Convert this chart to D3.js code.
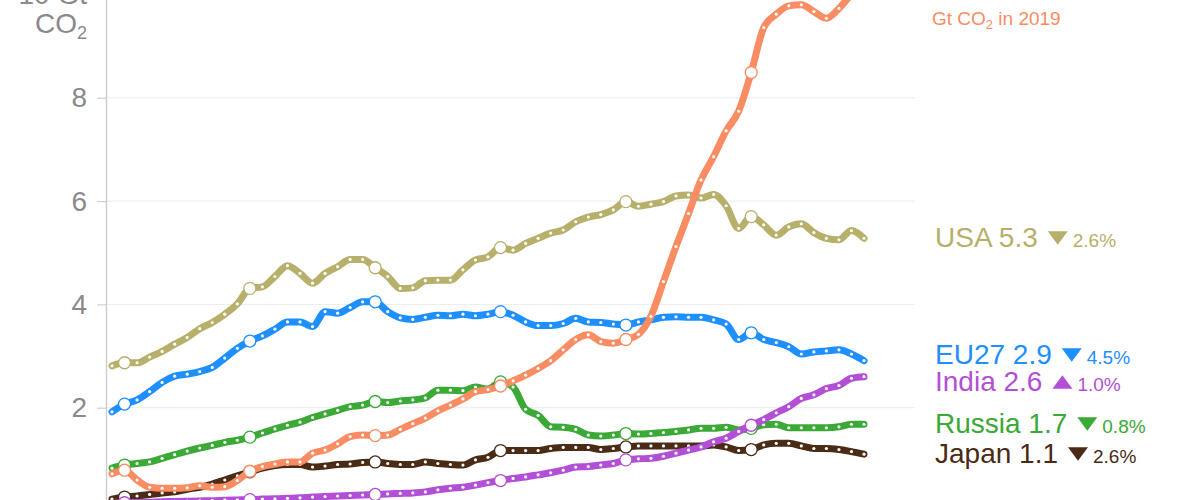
<!DOCTYPE html>
<html><head><meta charset="utf-8">
<script src="https://cdn.jsdelivr.net/npm/d3@7"></script>
<style>
html,body{margin:0;padding:0;background:#fff;overflow:hidden}
svg{display:block;font-family:"Liberation Sans",Arial,Helvetica,sans-serif}
</style></head><body>
<svg id="chart" width="1200" height="500"></svg>
<script>
// ---------- data (Gt CO2 per year, 1959-2019) ----------
const years = d3.range(1959, 2020);

const china = [0.72,
  0.79, 0.60, 0.46, 0.44, 0.44, 0.45, 0.49, 0.46, 0.47, 0.59,
  0.77, 0.86, 0.91, 0.95, 0.95, 1.12, 1.18, 1.30, 1.44, 1.47,
  1.46, 1.47, 1.58, 1.69, 1.80, 1.94, 2.05, 2.17, 2.31, 2.35,
  2.42, 2.52, 2.63, 2.76, 2.91, 3.12, 3.32, 3.41, 3.28, 3.25,
  3.32, 3.42, 3.77, 4.44, 5.12, 5.76, 6.41, 6.86, 7.36, 7.74,
  8.49, 9.36, 9.62, 9.78, 9.80, 9.67, 9.54, 9.73, 10.00, 10.17];

const usa = [2.81,
  2.87, 2.87, 2.98, 3.09, 3.23, 3.36, 3.53, 3.65, 3.81, 4.01,
  4.31, 4.34, 4.54, 4.75, 4.60, 4.41, 4.60, 4.73, 4.87, 4.87,
  4.71, 4.54, 4.31, 4.32, 4.46, 4.47, 4.47, 4.67, 4.86, 4.92,
  5.10, 5.05, 5.18, 5.28, 5.38, 5.44, 5.60, 5.69, 5.74, 5.83,
  5.99, 5.90, 5.94, 5.99, 6.10, 6.12, 6.06, 6.13, 5.91, 5.47,
  5.70, 5.54, 5.34, 5.50, 5.56, 5.39, 5.28, 5.25, 5.43, 5.28];

const eu27 = [1.92,
  2.07, 2.15, 2.31, 2.49, 2.61, 2.65, 2.70, 2.78, 2.96, 3.15,
  3.29, 3.39, 3.52, 3.66, 3.66, 3.57, 3.86, 3.83, 3.94, 4.05,
  4.05, 3.86, 3.74, 3.71, 3.75, 3.79, 3.78, 3.81, 3.78, 3.81,
  3.86, 3.79, 3.66, 3.59, 3.59, 3.63, 3.73, 3.66, 3.65, 3.62,
  3.60, 3.66, 3.70, 3.75, 3.76, 3.75, 3.75, 3.70, 3.62, 3.32,
  3.45, 3.32, 3.26, 3.18, 3.04, 3.08, 3.10, 3.12, 3.04, 2.91];

const india = [0.15,
  0.16, 0.165, 0.17, 0.18, 0.185, 0.19, 0.195, 0.20, 0.21, 0.215,
  0.22, 0.23, 0.235, 0.245, 0.255, 0.27, 0.28, 0.29, 0.30, 0.31,
  0.32, 0.33, 0.34, 0.35, 0.37, 0.41, 0.44, 0.46, 0.50, 0.55,
  0.59, 0.63, 0.66, 0.70, 0.74, 0.79, 0.85, 0.86, 0.89, 0.92,
  0.99, 1.01, 1.02, 1.06, 1.12, 1.18, 1.24, 1.34, 1.41, 1.54,
  1.66, 1.77, 1.90, 2.02, 2.18, 2.25, 2.37, 2.43, 2.57, 2.60];

const russia = [0.83,
  0.89, 0.92, 0.95, 1.02, 1.09, 1.16, 1.22, 1.27, 1.33, 1.37,
  1.43, 1.51, 1.59, 1.66, 1.72, 1.81, 1.88, 1.95, 2.02, 2.05,
  2.12, 2.10, 2.13, 2.15, 2.19, 2.34, 2.34, 2.33, 2.40, 2.36,
  2.50, 2.40, 1.97, 1.85, 1.63, 1.62, 1.58, 1.47, 1.45, 1.47,
  1.50, 1.49, 1.50, 1.52, 1.54, 1.57, 1.60, 1.60, 1.62, 1.57,
  1.60, 1.67, 1.68, 1.61, 1.61, 1.61, 1.61, 1.63, 1.68, 1.68];

const japan = [0.23,
  0.27, 0.29, 0.32, 0.35, 0.37, 0.42, 0.46, 0.52, 0.60, 0.68,
  0.76, 0.83, 0.88, 0.90, 0.90, 0.85, 0.87, 0.90, 0.91, 0.94,
  0.95, 0.92, 0.90, 0.90, 0.95, 0.92, 0.90, 0.89, 0.99, 1.04,
  1.17, 1.17, 1.17, 1.17, 1.21, 1.23, 1.23, 1.23, 1.19, 1.21,
  1.24, 1.26, 1.26, 1.26, 1.26, 1.26, 1.26, 1.28, 1.24, 1.17,
  1.19, 1.28, 1.31, 1.31, 1.26, 1.21, 1.21, 1.19, 1.15, 1.10];

const tickValues = [0, 2, 4, 6, 8, 10];
const tickLabels = ["0", "2", "4", "6", "8", "10 Gt"];
const markerYears = [1960, 1970, 1980, 1990, 2000, 2010];

// label texts (drawn in order of series list below)
const seriesNames  = ["Japan", "Russia", "India", "EU27", "USA", "China"];
const seriesValues = [japan, russia, india, eu27, usa, china];
const seriesColors = ["#4a2b15", "#3aa935", "#b34fd6", "#1e8fff", "#b6b06a", "#f98c62"];
const labelValues  = ["1.1", "1.7", "2.6", "2.9", "5.3", "10.2"];
const labelChange  = ["2.6%", "0.8%", "1.0%", "4.5%", "2.6%", ""];
const labelDir     = ["down", "down", "up", "down", "down", ""];

// ---------- chart ----------
const svg = d3.select("#chart");
const x = d3.scaleLinear().domain([1959, 2019]).range([112, 864]);
const y = d3.scaleLinear().domain([0, 10]).range([511, -5.5]);
const axisX = 106, gridEnd = 915;

// grid
svg.append("g").selectAll("line")
  .data(tickValues.filter(d => d > 0))
  .join("line")
  .attr("x1", axisX).attr("x2", gridEnd)
  .attr("y1", d => y(d)).attr("y2", d => y(d))
  .attr("stroke", "#ececec").attr("stroke-width", 1);

// y axis
const yAxis = d3.axisLeft(y).tickValues(tickValues)
  .tickFormat((d, i) => tickLabels[i]).tickSize(9).tickSizeOuter(0).tickPadding(10);
const gAxis = svg.append("g").attr("transform", `translate(${axisX},0)`).call(yAxis);
gAxis.select(".domain").attr("stroke", "#cfcfcf").attr("stroke-width", 1.5);
gAxis.selectAll(".tick line").attr("stroke", "#cfcfcf").attr("stroke-width", 1.2);
gAxis.selectAll(".tick text").attr("fill", "#8a8a8a")
  .style("font-size", "28px").style("font-family", '"Liberation Sans",Arial,sans-serif');
// unit second line
const unit = gAxis.append("text").attr("x", -19).attr("y", y(10) + 38)
  .attr("text-anchor", "end").attr("fill", "#8a8a8a")
  .style("font-size", "28px").style("font-family", '"Liberation Sans",Arial,sans-serif');
unit.append("tspan").text("CO");
unit.append("tspan").attr("dy", 6).style("font-size", "18px").text("2");

// lines
const line = d3.line().x((d, i) => x(years[i])).y(d => y(d)).curve(d3.curveMonotoneX);
seriesValues.forEach((vals, si) => {
  const g = svg.append("g");
  const col = seriesColors[si];
  g.append("path").attr("d", line(vals)).attr("fill", "none")
    .attr("stroke", col).attr("stroke-width", 7)
    .attr("stroke-linejoin", "round").attr("stroke-linecap", "round");
  g.selectAll("circle.dot")
    .data(vals.map((v, i) => ({ yr: years[i], v })).filter(d => !markerYears.includes(d.yr)))
    .join("circle").attr("class", "dot")
    .attr("cx", d => x(d.yr)).attr("cy", d => y(d.v)).attr("r", 1.6).attr("fill", "#fff");
  g.selectAll("circle.mk")
    .data(vals.map((v, i) => ({ yr: years[i], v })).filter(d => markerYears.includes(d.yr)))
    .join("circle").attr("class", "mk")
    .attr("cx", d => x(d.yr)).attr("cy", d => y(d.v)).attr("r", 6)
    .attr("fill", "#fff").attr("stroke", col).attr("stroke-width", 1.3);
});

// right labels with simple collision avoidance
const labs = seriesNames.map((n, i) => ({
  i, name: n, val: labelValues[i], ch: labelChange[i], dir: labelDir[i],
  col: seriesColors[i], y: y(seriesValues[i][seriesValues[i].length - 1]) - 1.5
})).sort((a, b) => a.y - b.y);
const gap = 27;
for (let it = 0; it < 50; it++) {
  for (let k = 1; k < labs.length; k++) {
    const a = labs[k - 1], b = labs[k];
    const d = b.y - a.y;
    if (d < gap) { const s = (gap - d) / 2; a.y -= s; b.y += s; }
  }
}
const lx = 935;
labs.forEach(l => {
  const g = svg.append("g");
  const base = l.y + 10;
  const t = g.append("text").attr("x", lx).attr("y", base).attr("fill", l.col)
    .style("font-size", "28px").text(`${l.name} ${l.val}`);
  const w = t.node().getComputedTextLength();
  if (l.dir) {
    const tx = lx + w + 20, ty = l.y + 1;
    const tri = l.dir === "down"
      ? `M${tx - 10},${ty - 6.5}L${tx + 10},${ty - 6.5}L${tx},${ty + 7}Z`
      : `M${tx - 10},${ty + 7}L${tx + 10},${ty + 7}L${tx},${ty - 6.5}Z`;
    g.append("path").attr("d", tri).attr("fill", l.col);
    g.append("text").attr("x", tx + 15).attr("y", base).attr("fill", l.col)
      .style("font-size", "19px").text(l.ch);
  }
  if (l.name === "China") {
    const s = g.append("text").attr("x", lx - 3).attr("y", base + 31).attr("fill", l.col)
      .style("font-size", "19px");
    s.append("tspan").text("Gt CO");
    s.append("tspan").attr("dy", 4).style("font-size", "13px").text("2");
    s.append("tspan").attr("dy", -4).text(" in 2019");
  }
});
</script>
</body></html>
